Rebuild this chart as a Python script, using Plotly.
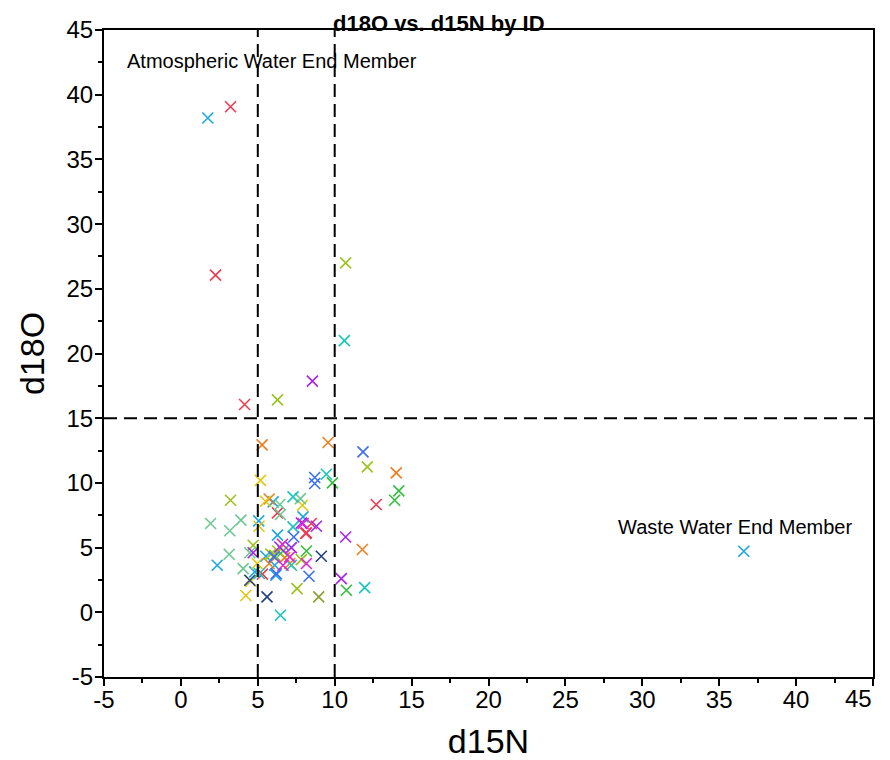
import plotly.graph_objects as go

# Points grouped by ID colour
red_x = [3.23, 2.25, 4.14, 6.28, 8.12, 12.7, 5.3, 8.48, 8.16]
red_y = [39.07, 26.06, 16.06, 7.68, 6.1, 8.33, 2.95, 6.86, 6.14]
cyan_x = [1.75, 36.6, 6.0, 5.06, 7.94, 6.28, 2.36, 4.8, 6.17, 5.52, 6.1]
cyan_y = [38.2, 4.72, 8.53, 7.06, 7.37, 5.96, 3.64, 3.12, 2.86, 4.33, 3.64]
orange_x = [5.28, 9.57, 14.0, 5.74, 11.8, 5.74, 6.75, 7.08]
orange_y = [12.94, 13.12, 10.77, 8.76, 4.85, 3.77, 4.23, 3.77]
yellow_x = [5.17, 5.5, 7.9, 5.08, 4.96, 4.22, 4.55]
yellow_y = [10.2, 8.58, 8.27, 6.65, 3.77, 1.3, 2.4]
ygreen_x = [10.71, 6.28, 12.12, 3.23, 4.7, 5.85, 6.1, 6.3, 7.55, 7.83]
ygreen_y = [27.0, 16.42, 11.24, 8.66, 5.18, 4.5, 4.4, 4.74, 1.83, 4.07]
lgreen_x = [6.43, 6.47, 7.77, 1.93, 3.9, 3.18, 3.14, 4.05, 4.48]
lgreen_y = [8.33, 7.56, 8.79, 6.86, 7.12, 6.3, 4.49, 3.38, 4.6]
teal_x = [10.63, 9.46, 7.29, 7.29, 7.18, 6.47, 11.95, 5.1]
teal_y = [21.0, 10.67, 8.92, 6.6, 3.64, -0.23, 1.91, 3.0]
blue_x = [11.84, 8.7, 8.7, 7.34, 6.06, 8.33, 6.2]
blue_y = [12.4, 10.42, 9.95, 5.82, 4.28, 2.79, 2.99]
green_x = [9.85, 14.17, 13.9, 6.64, 8.16, 10.76]
green_y = [10.0, 9.38, 8.66, 4.74, 4.74, 1.7]
purple_x = [8.55, 7.83, 8.81, 10.71, 10.43, 4.7, 6.43, 7.18]
purple_y = [17.86, 6.9, 6.65, 5.82, 2.6, 4.6, 5.05, 5.0]
magenta_x = [6.6, 6.64, 7.08, 8.16, 7.94]
magenta_y = [5.26, 3.64, 4.28, 3.77, 6.86]
navy_x = [4.48, 5.6, 9.13]
navy_y = [2.48, 1.19, 4.33]
olive_x = [8.96]
olive_y = [1.19]

groups = [
    ("A", red_x, red_y, "#F03A52"),
    ("B", cyan_x, cyan_y, "#1BA8E0"),
    ("C", orange_x, orange_y, "#F07D1E"),
    ("D", yellow_x, yellow_y, "#E2C812"),
    ("E", ygreen_x, ygreen_y, "#9CC21C"),
    ("F", lgreen_x, lgreen_y, "#6EC894"),
    ("G", teal_x, teal_y, "#17C6BE"),
    ("H", blue_x, blue_y, "#3C6EF2"),
    ("I", green_x, green_y, "#32C03C"),
    ("J", purple_x, purple_y, "#A424F2"),
    ("K", magenta_x, magenta_y, "#E024D2"),
    ("L", navy_x, navy_y, "#20407E"),
    ("M", olive_x, olive_y, "#8E9E30"),
]

x_ticks = [-5, 0, 5, 10, 15, 20, 25, 30, 35, 40, 45]
y_ticks = [-5, 0, 5, 10, 15, 20, 25, 30, 35, 40, 45]
# last x label is drawn separately (shifted left to stay inside the image)
x_ticktext = ["-5", "0", "5", "10", "15", "20", "25", "30", "35", "40", ""]
x_last_label = "45"
y_ticktext = ["-5", "0", "5", "10", "15", "20", "25", "30", "35", "40", "45"]
ref_x = [5, 10]
ref_y = [15]

fig = go.Figure()
for name, xs, ys, col in groups:
    fig.add_trace(go.Scatter(
        x=xs, y=ys, mode="markers", name=name,
        marker=dict(symbol="x-thin", size=11, line=dict(color=col, width=1.6)),
    ))

for xv in ref_x:
    fig.add_shape(type="line", xref="x", yref="paper", x0=xv, x1=xv, y0=0, y1=1,
                  line=dict(color="black", width=2, dash="13px,7px"))
for yv in ref_y:
    fig.add_shape(type="line", xref="paper", yref="y", x0=0, x1=1, y0=yv, y1=yv,
                  line=dict(color="black", width=2, dash="13px,7px"))

fig.add_annotation(text="Atmospheric Water End Member", x=5.9, y=42.6, xref="x", yref="y",
                   showarrow=False, font=dict(family="Liberation Sans", size=20, color="black"))
fig.add_annotation(text="Waste Water End Member", x=36.0, y=6.57, xref="x", yref="y",
                   showarrow=False, font=dict(family="Liberation Sans", size=20, color="black"))
fig.add_annotation(text="<b>d18O vs. d15N by ID</b>", x=0.436, y=1, xref="paper", yref="paper",
                   yanchor="bottom", yshift=-8, showarrow=False,
                   font=dict(family="Liberation Sans", size=22, color="black"))
fig.add_annotation(text=x_last_label, x=x_ticks[-1], y=0, xref="x", yref="paper",
                   xanchor="right", yanchor="top", xshift=1, yshift=-6, showarrow=False,
                   font=dict(family="Liberation Sans", size=24, color="black"))

axis_common = dict(
    showgrid=False, zeroline=False, showline=True, linecolor="black", linewidth=2,
    mirror=True, ticks="outside", ticklen=7, tickwidth=1.8, tickcolor="black",
    automargin=False,
    tickfont=dict(family="Liberation Sans", size=24, color="black"),
    minor=dict(ticks="outside", ticklen=4, tickwidth=1.6, tickcolor="black", dtick=2.5),
)
fig.update_xaxes(range=[-5, 45], tickvals=x_ticks, ticktext=x_ticktext, ticklabelstandoff=-7,
                 title=dict(text="d15N", font=dict(family="Liberation Sans", size=34, color="black"), standoff=22),
                 **axis_common)
fig.update_yaxes(range=[-5, 45], tickvals=y_ticks, ticktext=y_ticktext, ticklabelstandoff=-3,
                 title=dict(text="d18O", font=dict(family="Liberation Sans", size=34, color="black"), standoff=12),
                 **axis_common)

fig.update_layout(
    width=890, height=760, showlegend=False,
    plot_bgcolor="white", paper_bgcolor="white",
    margin=dict(l=104, r=17, t=30, b=83),
)
fig.write_html("out.html")
